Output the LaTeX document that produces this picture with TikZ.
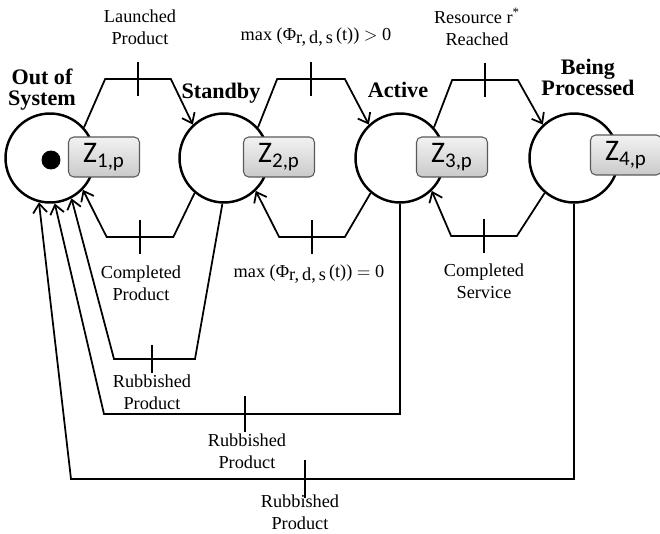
\documentclass[tikz,border=0pt]{standalone}
\usepackage{fontspec}
\setmainfont{Liberation Serif}
\newfontfamily\zfont{Carlito}
\usetikzlibrary{arrows.meta}

\tikzset{
  place/.style={circle,draw,line width=1.4pt,minimum size=1.78cm,inner sep=0},
  token/.style={circle,fill=black,minimum size=0.38cm,inner sep=0},
  zbox/.style={draw=black!65,line width=0.6pt,rounded corners=3pt,
    top color=gray!10,bottom color=gray!42,minimum width=1.42cm,
    minimum height=0.8cm,inner sep=0,font=\zfont\fontsize{17}{17}\selectfont},
  trans/.style={minimum width=1.3cm,minimum height=0.68cm,inner sep=0},
  barline/.style={line width=1.7pt},
  arc/.style={line width=1pt,-{Straight Barb[length=1.8mm,width=2.8mm]}},
  lbl/.style={align=center,font=\fontsize{10.4}{12.5}\selectfont},
  statename/.style={align=center,font=\bfseries\fontsize{12.6}{12}\selectfont}
}

\begin{document}
\begin{tikzpicture}[x=0.02cm,y=-0.02cm]
\useasboundingbox (0,0) rectangle (660,534);

%Places
\node[place] (p1) at (50,158) {};
\node[place] (p2) at (224,158) {};
\node[place] (p3) at (400,158) {};
\node[place] (p4) at (574,158) {};
\node[token] (tok) at (51,160) {};

%Boxes
\node[zbox] (z1) at (104,157) {Z\textsubscript{1,p}};
\node[zbox] (z2) at (279,157) {Z\textsubscript{2,p}};
\node[zbox] (z3) at (452,157) {Z\textsubscript{3,p}};
\node[zbox] (z4) at (626,155) {Z\textsubscript{4,p}};

%State names
\node[statename] (n1) at (42,90) {Out of\\System};
\node[statename] (n2) at (221,93) {Standby};
\node[statename] (n3) at (398,90) {Active};
\node[statename] (n4) at (588,77) {Being\\Processed};

%Transitions, top
\node[trans] (t1) at (138,79) {};
\node[trans,minimum width=1.34cm] (t2) at (311,79) {};
\node[trans] (t3) at (485,80) {};
%Transitions, bottom
\node[trans,minimum width=1.32cm] (b1) at (140,237) {};
\node[trans] (b2) at (312,237) {};
\node[trans] (b3) at (484,236) {};
%Rubbish
\node[trans,minimum width=0cm,minimum height=0.54cm] (r1) at (152,359) {};
\node[trans,minimum width=0cm,minimum height=0.7cm] (r2) at (245,414) {};
\node[trans,minimum width=0cm,minimum height=0.74cm] (r3) at (305,479) {};
\coordinate (r1a) at (195,359);
\coordinate (r1b) at (114,359);
\coordinate (r2b) at (104,414);
\coordinate (r3b) at (71,479);

\foreach \t in {t1,t2,t3,b1,b2,b3,r1,r2,r3}
  \draw[barline] (\t.north) -- (\t.south);

%Arcs
\draw[arc] (p1.42) -- (t1.west) -- (t1.east) -- (p2.133);
\draw[arc] (p2.42) -- (t2.west) -- (t2.east) -- (p3.133);
\draw[arc] (p3.42) -- (t3.west) -- (t3.east) -- (p4.133);
\draw[arc] (p2.-130) -- (b1.east) -- (b1.west) -- (p1.-44);
\draw[arc] (p3.-130) -- (b2.east) -- (b2.west) -- (p2.-46);
\draw[arc] (p4.-130) -- (b3.east) -- (b3.west) -- (p3.-46);
\draw[arc] (p2.-92) -- (r1a) -- (r1b) -- (p1.-62);
\draw[arc] (p3.south) |- (r2.center) -- (r2b) -- (p1.-84);
\draw[arc] (p4.south) |- (r3.center) -- (r3b) -- (p1.-104);

%Labels
\node[lbl] (l1) at (140,27) {Launched\\Product};
\node[lbl] (l2) at (316,37) {max (Φ\raisebox{-0.45ex}{r,\,d,\,s}\,(t)) $>$\ 0};
\node[lbl] (l3) at (477,27) {Resource r\textsuperscript{*}\\Reached};
\node[lbl] (l4) at (141,283) {Completed\\Product};
\node[lbl] (l5) at (309,274) {max (Φ\raisebox{-0.45ex}{r,\,d,\,s}\,(t)) $=$\ 0};
\node[lbl] (l6) at (484,281) {Completed\\Service};
\node[lbl] (l7) at (152,392) {Rubbished\\Product};
\node[lbl] (l8) at (247,451) {Rubbished\\Product};
\node[lbl] (l9) at (300,512) {Rubbished\\Product};
\end{tikzpicture}
\end{document}
